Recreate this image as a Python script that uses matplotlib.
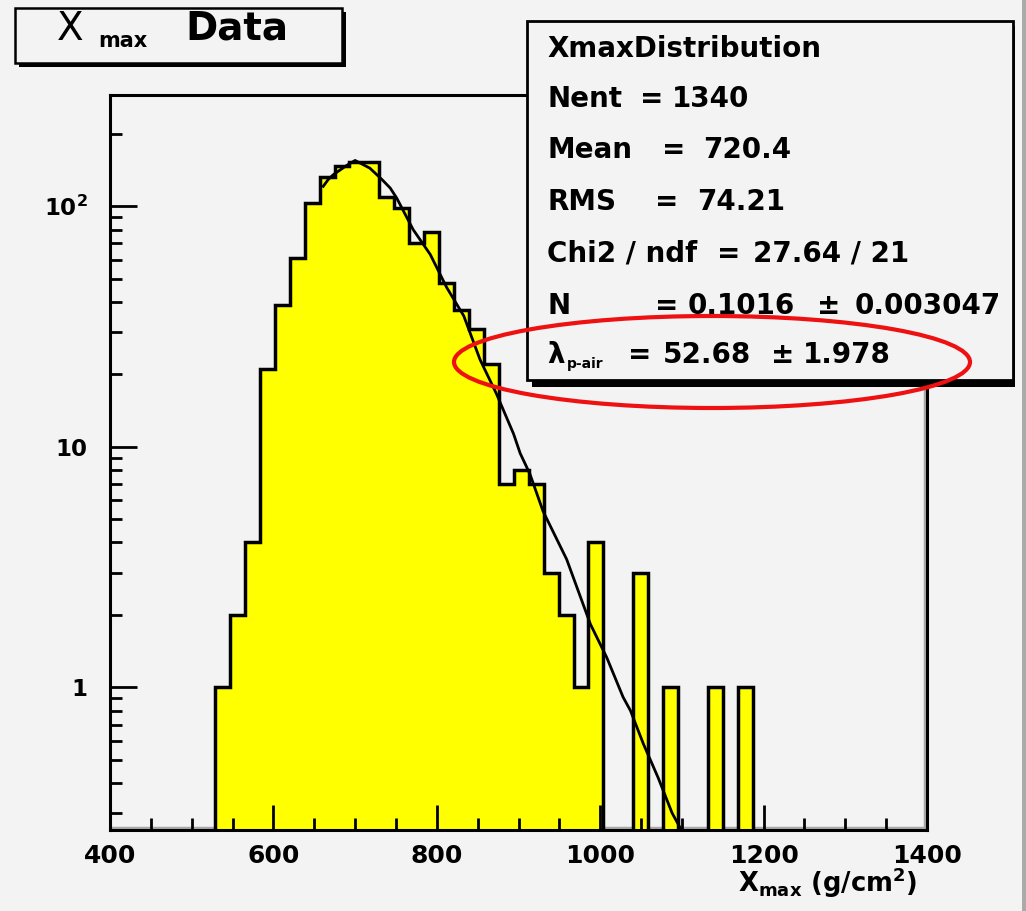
import numpy as np
import matplotlib
matplotlib.use("Agg")
import matplotlib.pyplot as plt
from matplotlib.patches import Rectangle, Ellipse
from matplotlib.ticker import FixedLocator, FixedFormatter, LogLocator, MultipleLocator, NullFormatter

plt.rcParams['font.family'] = ['DejaVu Sans']
plt.rcParams['font.weight'] = 'bold'
plt.rcParams['mathtext.default'] = 'bf'

# ---------------- data ----------------
bin_lo = 528.6
bin_width = 18.28
counts = [1, 2, 4, 21, 39, 61, 103, 132, 147, 152, 152, 109, 98, 70, 78, 48, 37, 31,
          22, 7, 8, 7, 3, 2, 1, 4, 0, 0, 3, 0, 1, 0, 0, 1, 0, 1]

fit_x = [661, 667, 673, 690, 700, 718, 733, 743, 751, 771, 792, 812, 833, 853, 873,
         894, 902, 914, 930, 959, 988, 1008, 1028, 1037, 1053, 1071, 1088, 1098]
fit_y = [121, 129, 135, 148, 155, 144, 129, 119, 108, 80, 63, 46, 35, 23, 16.6,
         11.3, 9.4, 7.7, 5.4, 3.4, 1.83, 1.33, 0.91, 0.80, 0.58, 0.42, 0.30, 0.26]

x_ticks = [400, 600, 800, 1000, 1200, 1400]
y_ticks = [1, 10, 100]
y_tick_labels = ['1', '10', r'$10^{2}$']

stats_labels = ['Nent', 'Mean', 'RMS', 'Chi2 / ndf', 'N']
stats_values = ['1340', '720.4', '74.21', '27.64 / 21', '0.1016']
par_N_err = '0.003047'
par_lambda = '52.68'
par_lambda_err = '1.978'

# ---------------- figure ----------------
W, H = 1026, 911
BG = '#f3f3f3'
fig = plt.figure(figsize=(W / 100, H / 100), dpi=100, facecolor=BG)


def fx(x):
    return x / W


def fy(y):
    return 1 - y / H


ax = fig.add_axes([fx(110), fy(830), (927 - 110) / W, (830 - 95) / H])
ax.set_facecolor(BG)
ax.set_yscale('log')
ax.set_xlim(400, 1400)
ax.set_ylim(0.255, 290)

# frame shadow (gray) inside bottom and right
ax.plot([0, 1], [0.003, 0.003], transform=ax.transAxes, color='#a8a8a8', lw=2.5,
        zorder=0.5, clip_on=False, solid_capstyle='butt')
ax.plot([0.997, 0.997], [0, 1], transform=ax.transAxes, color='#a8a8a8', lw=2.5,
        zorder=0.5, clip_on=False, solid_capstyle='butt')

counts_arr = np.array(counts, dtype=float)
edges = bin_lo + bin_width * np.arange(len(counts) + 1)
vals = np.where(counts_arr > 0, counts_arr, 1e-3)
ax.stairs(vals, edges, baseline=1e-3, fill=True, facecolor='#ffff00',
          edgecolor='none', zorder=1)
ax.stairs(vals, edges, baseline=1e-3, fill=False, color='black', lw=2.5, zorder=2)

ax.plot(fit_x, fit_y, color='black', lw=2.0, zorder=3)

for s in ax.spines.values():
    s.set_linewidth(2.2)
    s.set_color('black')

ax.xaxis.set_major_locator(FixedLocator(x_ticks))
ax.xaxis.set_minor_locator(MultipleLocator(50))
ax.xaxis.set_major_formatter(FixedFormatter([str(v) for v in x_ticks]))
ax.yaxis.set_major_locator(FixedLocator(y_ticks))
ax.yaxis.set_major_formatter(FixedFormatter(y_tick_labels))
ax.yaxis.set_minor_locator(LogLocator(base=10, subs=np.arange(2, 10)))
ax.yaxis.set_minor_formatter(NullFormatter())

ax.tick_params(axis='x', which='major', direction='in', length=18, width=2,
               pad=10, labelsize=18)
ax.tick_params(axis='x', which='minor', direction='in', length=8.6, width=2)
ax.tick_params(axis='y', which='major', direction='in', length=19.4, width=2,
               pad=16, labelsize=16.5)
ax.tick_params(axis='y', which='minor', direction='in', length=8.6, width=2)
for lbl in ax.get_xticklabels() + ax.get_yticklabels():
    lbl.set_fontweight('bold')

# x axis title
fig.text(fx(917), fy(892), r'X$_{max}$ (g/cm$^{2}$)', ha='right', va='baseline',
         fontsize=18.5, fontweight='bold')

# ---------------- title box ----------------
fig.patches.append(Rectangle((fx(19), fy(67)), (346 - 19) / W, (67 - 12) / H,
                             transform=fig.transFigure, facecolor='black',
                             edgecolor='none', zorder=5))
fig.patches.append(Rectangle((fx(15), fy(63)), (342 - 15) / W, (63 - 8) / H,
                             transform=fig.transFigure, facecolor=BG,
                             edgecolor='black', lw=1.8, zorder=6))
fig.text(fx(57), fy(40), 'X', fontsize=28, fontweight='normal', va='baseline',
         zorder=7)
fig.text(fx(98), fy(47), 'max', fontsize=15, fontweight='bold', va='baseline',
         zorder=7)
fig.text(fx(185), fy(40), 'Data', fontsize=28, fontweight='bold', va='baseline',
         zorder=7)

# ---------------- stats box ----------------
fig.patches.append(Rectangle((fx(532), fy(387)), (1015 - 532) / W, (387 - 26) / H,
                             transform=fig.transFigure, facecolor='black',
                             edgecolor='none', zorder=5))
fig.patches.append(Rectangle((fx(527), fy(380)), (1013 - 527) / W, (380 - 21) / H,
                             transform=fig.transFigure, facecolor=BG,
                             edgecolor='black', lw=2.0, zorder=6))

FS = 20
LX = 547
base_y = [57, 107, 158, 210, 262, 314, 363]
fig.text(fx(LX), fy(base_y[0]), 'XmaxDistribution', fontsize=FS, va='baseline',
         fontweight='bold', zorder=7)
eq_x = [652, 674, 667, 729, 667]
val_x = [672, 703, 697, 753, 688]
for i in range(5):
    yb = fy(base_y[i + 1])
    fig.text(fx(LX), yb, stats_labels[i], fontsize=FS, va='baseline', zorder=7)
    fig.text(fx(eq_x[i]), yb, '=', fontsize=FS, va='baseline', ha='center', zorder=7)
    fig.text(fx(val_x[i]), yb, stats_values[i], fontsize=FS, va='baseline', zorder=7)
fig.text(fx(829), fy(base_y[5]), '\u00b1', fontsize=FS, va='baseline', ha='center', zorder=7)
fig.text(fx(855), fy(base_y[5]), par_N_err, fontsize=FS, va='baseline', zorder=7)

yb = fy(base_y[6])
fig.text(fx(LX), yb, '\u03bb', fontsize=FS, va='baseline', zorder=7)
fig.text(fx(567), fy(368), 'p-air', fontsize=10, va='baseline', zorder=7)
fig.text(fx(640), yb, '=', fontsize=FS, va='baseline', ha='center', zorder=7)
fig.text(fx(663), yb, par_lambda, fontsize=FS, va='baseline', zorder=7)
fig.text(fx(783), yb, '\u00b1', fontsize=FS, va='baseline', ha='center', zorder=7)
fig.text(fx(803), yb, par_lambda_err, fontsize=FS, va='baseline', zorder=7)

# ---------------- red annotation ellipse ----------------
fig.patches.append(Ellipse((fx(712), fy(362)), 516 / W, 92 / H,
                           transform=fig.transFigure, facecolor='none',
                           edgecolor='#ee1111', lw=3.0, zorder=10))

# right border of the pad
fig.patches.append(Rectangle((fx(1022), 0), 4 / W, 1, transform=fig.transFigure,
                             facecolor='#aaaaaa', edgecolor='none', zorder=4))

fig.savefig('out.png', dpi=100, facecolor=BG)
